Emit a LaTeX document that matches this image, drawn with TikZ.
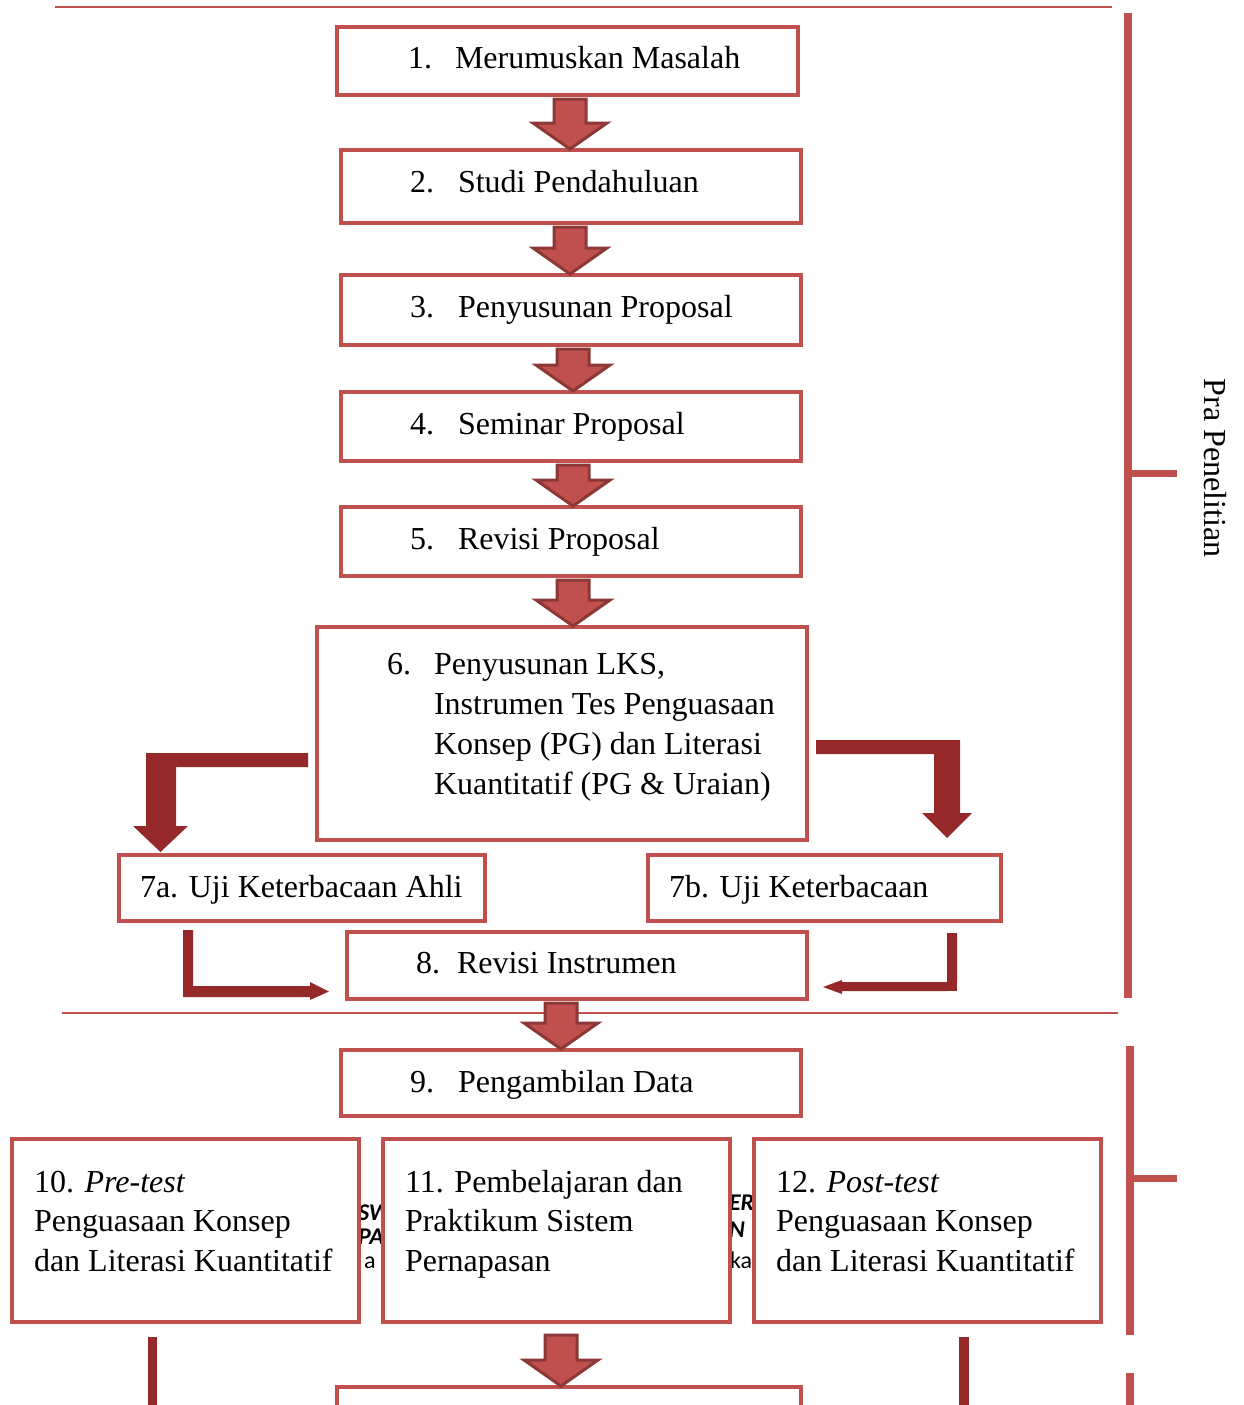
\documentclass[tikz,border=0pt]{standalone}
\usepackage{fontspec}
\setmainfont{Liberation Serif}
\newfontfamily\fragfont{Carlito}
\usetikzlibrary{calc}
\definecolor{boxred}{HTML}{C0504D}
\definecolor{arrowborder}{HTML}{8C3836}
\definecolor{darkred}{HTML}{95292A}
\newcommand\blkdown[4][4]{%
  \draw[blk] ($(#3.south -| #2)+(-16,#1)$) -- ($(#3.south -| #2)+(16,#1)$)
   -- ($(#4.north -| #2)+(16,-27)$) -- ($(#4.north -| #2)+(37,-27)$)
   -- ($(#4.north -| #2)+(0,-1)$) -- ($(#4.north -| #2)+(-37,-27)$)
   -- ($(#4.north -| #2)+(-16,-27)$) -- cycle;}
\begin{document}
\begin{tikzpicture}[x=1pt,y=-1pt,
  box/.style={draw=boxred,line width=4pt,fill=white,rectangle,inner sep=0pt,outer sep=0pt,anchor=north west},
  lbl/.style={inner sep=0pt,outer sep=0pt,anchor=base west,font=\fontsize{32}{40}\selectfont},
  frag/.style={inner sep=0pt,outer sep=0pt,anchor=base west,font=\fragfont\fontsize{24}{26}\selectfont},
  fragbi/.style={frag,font=\fragfont\bfseries\itshape\fontsize{24}{26}\selectfont},
  blk/.style={draw=arrowborder,fill=boxred,line width=3pt,line join=miter},
  lar/.style={fill=darkred,draw=none},
  sepline/.style={draw=boxred,line width=2pt},
  bracebar/.style={draw=boxred,line width=8pt},
  bracetick/.style={draw=boxred,line width=7pt}]
\useasboundingbox (0,0) rectangle (1243,1405);
\fill[white] (0,0) rectangle (1243,1405);
\clip (0,0) rectangle (1243,1405);

% separator lines
\draw[sepline] (55,7) -- (1112,7);
\draw[sepline] (62,1013) -- (1118,1013);

% brackets
\draw[bracebar] (1127.5,13) -- (1127.5,998);
\draw[bracetick] (1127.5,473) -- (1177,473);
\draw[bracebar] (1129.5,1046) -- (1129.5,1335);
\draw[bracetick] (1129.5,1178.5) -- (1177,1178.5);
\draw[bracebar] (1129.5,1373) -- (1129.5,1420);
\node[lbl,anchor=center,rotate=-90] (pra) at (1215,468) {Pra Penelitian};

% hidden text fragments between boxes
\begin{scope}
\clip (361,1150) rectangle (381,1300);
\node[fragbi] (fa) at (358,1220) {SW};
\node[fragbi] (fb) at (358,1244) {PA};
\node[frag] (fc) at (364,1268) {a};
\end{scope}
\begin{scope}
\clip (732,1150) rectangle (752,1300);
\node[fragbi] (fd) at (729,1210) {ER};
\node[fragbi] (fe) at (729,1237) {N};
\node[frag] (ff) at (730,1268) {ka};
\end{scope}

% boxes
\node[box,minimum width=461pt,minimum height=68pt] (b1) at (337,27) {};
\node[box,minimum width=460pt,minimum height=73pt] (b2) at (341,150) {};
\node[box,minimum width=460pt,minimum height=70pt] (b3) at (341,275) {};
\node[box,minimum width=460pt,minimum height=69pt] (b4) at (341,392) {};
\node[box,minimum width=460pt,minimum height=69pt] (b5) at (341,507) {};
\node[box,minimum width=490pt,minimum height=213pt] (b6) at (317,627) {};
\node[box,minimum width=366pt,minimum height=66pt] (b7a) at (119,855) {};
\node[box,minimum width=353pt,minimum height=66pt] (b7b) at (648,855) {};
\node[box,minimum width=460pt,minimum height=67pt] (b8) at (347,932) {};
\node[box,minimum width=460pt,minimum height=66pt] (b9) at (341,1050) {};
\node[box,minimum width=347pt,minimum height=183pt] (b10) at (12,1139) {};
\node[box,minimum width=347pt,minimum height=183pt] (b11) at (383,1139) {};
\node[box,minimum width=347pt,minimum height=183pt] (b12) at (754,1139) {};
\node[box,minimum width=464pt,minimum height=100pt] (b13) at (337,1387) {};

% texts
\node[lbl] (n1) at (408,68) {1.};
\node[lbl] (t1) at (455,68) {Merumuskan Masalah};
\node[lbl] (n2) at (410,192) {2.};
\node[lbl] (t2) at (458,192) {Studi Pendahuluan};
\node[lbl] (n3) at (410,317) {3.};
\node[lbl] (t3) at (458,317) {Penyusunan Proposal};
\node[lbl] (n4) at (410,434) {4.};
\node[lbl] (t4) at (458,434) {Seminar Proposal};
\node[lbl] (n5) at (410,549) {5.};
\node[lbl] (t5) at (458,549) {Revisi Proposal};
\node[lbl] (n6) at (387,674) {6.};
\node[lbl] (t6a) at (434,674) {Penyusunan LKS,};
\node[lbl] (t6b) at (434,714) {Instrumen Tes Penguasaan};
\node[lbl] (t6c) at (434,754) {Konsep (PG) dan Literasi};
\node[lbl] (t6d) at (434,794) {Kuantitatif (PG \& Uraian)};
\node[lbl] (t7a) at (140,897) {7a. Uji Keterbacaan Ahli};
\node[lbl] (t7b) at (669,897) {7b. Uji Keterbacaan};
\node[lbl] (n8) at (416,973) {8.};
\node[lbl] (t8) at (457,973) {Revisi Instrumen};
\node[lbl] (n9) at (410,1092) {9.};
\node[lbl] (t9) at (458,1092) {Pengambilan Data};
\node[lbl] (t10a) at (34,1192) {10. \textit{Pre-test}};
\node[lbl] (t10b) at (34,1231) {Penguasaan Konsep};
\node[lbl] (t10c) at (34,1271) {dan Literasi Kuantitatif};
\node[lbl] (t11a) at (405,1192) {11. Pembelajaran dan};
\node[lbl] (t11b) at (405,1231) {Praktikum Sistem};
\node[lbl] (t11c) at (405,1271) {Pernapasan};
\node[lbl] (t12a) at (776,1192) {12. \textit{Post-test}};
\node[lbl] (t12b) at (776,1231) {Penguasaan Konsep};
\node[lbl] (t12c) at (776,1271) {dan Literasi Kuantitatif};

% block arrows
\coordinate (xa) at (570,0);
\coordinate (xb) at (573,0);
\coordinate (xc) at (561,0);
\blkdown{xa}{b1}{b2}
\blkdown{xa}{b2}{b3}
\blkdown{xb}{b3}{b4}
\blkdown{xb}{b4}{b5}
\blkdown{xb}{b5}{b6}
\blkdown{xc}{b8}{b9}
\blkdown[13]{xc}{b11}{b13}

% L-shaped arrows from 6 to 7a / 7b
\fill[lar] (308,753) -- (146,753) -- (146,826) -- (133,826) -- (160.5,852)
  -- (188,826) -- (176,826) -- (176,767) -- (308,767) -- cycle;
\fill[lar] (816,740) -- (960,740) -- (960,813) -- (972,813) -- (947,838)
  -- (922,813) -- (934,813) -- (934,754) -- (816,754) -- cycle;
% L-shaped arrows from 7a / 7b to 8
\fill[lar] (183,930) -- (193,930) -- (193,986) -- (310,986) -- (310,982)
  -- (329,991.5) -- (310,1000) -- (310,997) -- (183,997) -- cycle;
\fill[lar] (947,933) -- (957,933) -- (957,982) -- (842,982) -- (842,980)
  -- (823,987) -- (842,994) -- (842,991) -- (947,991) -- cycle;
\fill[lar] (947,982) rectangle (957,991);

% lower side bars
\fill[lar] (148,1337) rectangle (157,1420);
\fill[lar] (959,1337) rectangle (969,1420);
\end{tikzpicture}
\end{document}
